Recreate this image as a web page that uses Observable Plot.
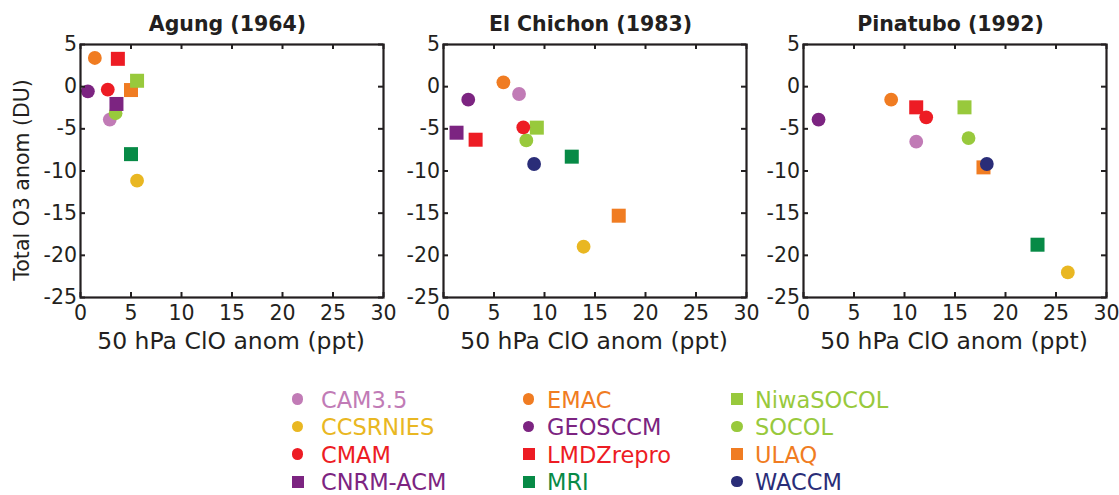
<!DOCTYPE html>
<html>
<head>
<meta charset="utf-8">
<script src="https://cdn.jsdelivr.net/npm/d3@7"></script>
<script src="https://cdn.jsdelivr.net/npm/@observablehq/plot@0.6"></script>
<style>
  body { margin: 0; background: #fff; font-family: "DejaVu Sans", sans-serif; }
  #root { position: relative; width: 1119px; height: 495px; overflow: hidden; background: #fff; }
  .panel { position: absolute; top: 0; }
  .mk { position: absolute; }
  .lt { position: absolute; font-family: "DejaVu Sans", sans-serif; font-size: 22.5px; line-height: 18px; height: 18px; white-space: nowrap; }
</style>
</head>
<body>
<div id="root"></div>
<script>
// ---- data ----
const models = ["CAM3.5","CCSRNIES","CMAM","CNRM-ACM","EMAC","GEOSCCM","LMDZrepro","MRI","NiwaSOCOL","SOCOL","ULAQ","WACCM"];
const colors = ["#c17bb6","#e9b722","#ed1c24","#7c2481","#f07c22","#7c2481","#ed1c24","#078a46","#98c93c","#98c93c","#f07c22","#2a2d78"];
const shapes = ["circle","circle","circle","square","circle","circle","square","square","square","circle","square","circle"];

const titles = ["Agung (1964)", "El Chichon (1983)", "Pinatubo (1992)"];

// 50 hPa ClO anomaly (ppt) and total O3 anomaly (DU), per model, in the order of `models`
const agungClO    = [2.9, 5.6, 2.7, 3.56, 1.42, 0.73, 3.7, 5.0, 5.6, 3.47, 5.0, null];
const agungO3     = [-3.9, -11.15, -0.35, -2.05, 3.4, -0.55, 3.3, -8.0, 0.7, -3.15, -0.4, null];
const chichonClO  = [7.48, 13.87, 7.9, 1.29, 5.93, 2.45, 3.18, 12.7, 9.24, 8.2, 17.35, 8.97];
const chichonO3   = [-0.87, -18.98, -4.83, -5.46, 0.51, -1.54, -6.29, -8.3, -4.86, -6.37, -15.3, -9.17];
const pinatuboClO = [11.16, 26.17, 12.15, null, 8.68, 1.49, 11.16, 23.17, 15.94, 16.34, 17.82, 18.15];
const pinatuboO3  = [-6.52, -22.03, -3.64, null, -1.54, -3.9, -2.45, -18.74, -2.45, -6.09, -9.57, -9.17];

const xTicks = [0, 5, 10, 15, 20, 25, 30];
const yTicks = [5, 0, -5, -10, -15, -20, -25];
const xLabel = "50 hPa ClO anom (ppt)";
const yLabel = "Total O3 anom (DU)";

// drawing order (later = on top)
const drawOrder = ["ULAQ","LMDZrepro","CAM3.5","SOCOL","CNRM-ACM","NiwaSOCOL","CCSRNIES","MRI","EMAC","GEOSCCM","CMAM","WACCM"];

// ---- layout ----
const ink = "#231f20";
const font = "'DejaVu Sans', sans-serif";
const frameW = 303, frameH = 253, mTop = 44, mBottom = 60;
const panels = [
  {xs: agungClO, ys: agungO3, left: 0, ml: 80, showY: true},
  {xs: chichonClO, ys: chichonO3, left: 383, ml: 60, showY: false},
  {xs: pinatuboClO, ys: pinatuboO3, left: 743, ml: 60, showY: false}
];

const root = document.getElementById("root");

panels.forEach((p, pi) => {
  const rows = models.map((m, i) => ({model: m, color: colors[i], shape: shapes[i], x: p.xs[i], y: p.ys[i]}))
    .filter(d => d.x != null && d.y != null);
  const dotMarks = drawOrder.map(name => {
    const sel = rows.filter(d => d.model === name);
    if (!sel.length) return null;
    const sq = sel[0].shape === "square";
    return Plot.dot(sel, {x: "x", y: "y", symbol: sel[0].shape, r: sq ? 7.9 : 6.9, fill: sel[0].color, stroke: "none"});
  }).filter(Boolean);

  const inset = frameH - 5, insetH = frameW - 5;
  const marks = [
    ...dotMarks,
    Plot.frame({stroke: ink, strokeWidth: 2.2}),
    Plot.tickX(xTicks, {x: d => d, insetTop: inset, stroke: ink, strokeWidth: 2}),
    Plot.tickX(xTicks, {x: d => d, insetBottom: inset, stroke: ink, strokeWidth: 2}),
    Plot.tickY(yTicks, {y: d => d, insetRight: insetH, stroke: ink, strokeWidth: 2}),
    Plot.tickY(yTicks, {y: d => d, insetLeft: insetH, stroke: ink, strokeWidth: 2}),
    Plot.axisX({ticks: xTicks, tickSize: 0, tickPadding: 8, fontSize: 20.5, tickFormat: d => String(d), label: null}),
    Plot.axisY({ticks: yTicks, tickSize: 0, tickPadding: 3.5, fontSize: 20.5, tickFormat: d => String(d), label: null}),
    Plot.text([titles[pi]], {frameAnchor: "top", dx: -4.5, dy: -20, lineAnchor: "middle", fontSize: 20.5, fontWeight: "bold", fill: ink}),
    Plot.text([xLabel], {frameAnchor: "bottom", dx: -1, dy: 44, lineAnchor: "middle", fontSize: 23.5, fill: ink})
  ];
  if (p.showY) {
    marks.push(Plot.text([yLabel], {frameAnchor: "left", dx: -58, dy: 9, rotate: -90, textAnchor: "middle", lineAnchor: "middle", fontSize: 20.5, fill: ink}));
  }
  const chart = Plot.plot({
    width: p.ml + frameW + 12,
    height: mTop + frameH + mBottom,
    marginLeft: p.ml, marginRight: 12, marginTop: mTop, marginBottom: mBottom,
    x: {domain: [0, 30], axis: null},
    y: {domain: [-25, 5], axis: null},
    style: {fontFamily: font, color: ink, background: "transparent", overflow: "visible"},
    marks
  });
  chart.classList.add("panel");
  chart.style.left = p.left + "px";
  root.appendChild(chart);
});

// ---- legend (below the charts) ----
const legCols = [{mk: 297.5, tx: 321}, {mk: 528.5, tx: 547}, {mk: 737, tx: 755}];
const legRows = [399, 426.5, 454, 481.5];
models.forEach((m, i) => {
  const c = legCols[Math.floor(i / 4)], r = legRows[i % 4];
  const size = shapes[i] === "circle" ? 11.5 : 12;
  const mk = document.createElement("div");
  mk.className = "mk";
  mk.style.width = size + "px";
  mk.style.height = size + "px";
  mk.style.left = (c.mk - size / 2) + "px";
  mk.style.top = (r - size / 2) + "px";
  mk.style.background = colors[i];
  if (shapes[i] === "circle") mk.style.borderRadius = "50%";
  root.appendChild(mk);
  const t = document.createElement("div");
  t.className = "lt";
  t.textContent = m;
  t.style.left = c.tx + "px";
  t.style.top = (r + 0.5 - 8.6) + "px";
  t.style.color = colors[i];
  root.appendChild(t);
});
</script>
</body>
</html>
